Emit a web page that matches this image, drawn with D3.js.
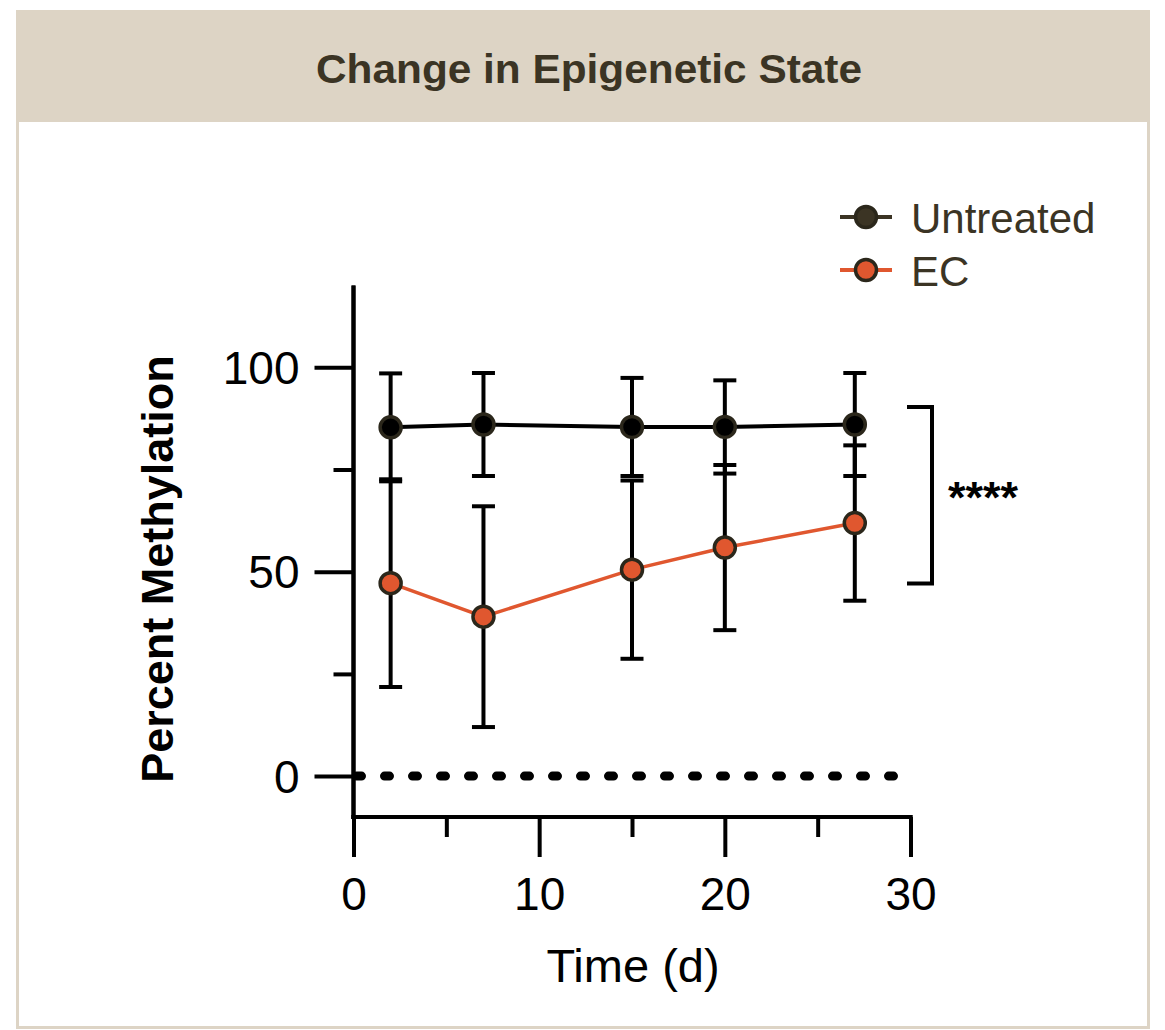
<!DOCTYPE html>
<html>
<head>
<meta charset="utf-8">
<script src="https://cdn.jsdelivr.net/npm/d3@7"></script>
<style>
  html, body { margin: 0; padding: 0; background: #ffffff; }
  svg { display: block; font-family: "Liberation Sans", Arial, Helvetica, sans-serif; }
</style>
</head>
<body>
<svg id="chart" width="1165" height="1030"></svg>
<script>
// ---- data ----
const days = [2, 7, 15, 20, 27];
const untreatedMean = [85.3, 86.0, 85.4, 85.4, 86.0];
const untreatedErr  = [13.2, 12.6, 12.0, 11.4, 12.6];
const ecMean = [47.2, 39.0, 50.5, 55.9, 61.9];
const ecErr  = [25.4, 27.0, 21.8, 20.2, 19.0];
const seriesNames = ["Untreated", "EC"];
const xTicks = [0, 10, 20, 30];
const xMinorTicks = [5, 15, 25];
const yTicks = [0, 50, 100];
const yMinorTicks = [25, 75];
const bracketRange = [47.1, 90.3];
const significance = "****";
const titleText = "Change in Epigenetic State";
const xLabel = "Time (d)";
const yLabel = "Percent Methylation";

// ---- layout ----
const svg = d3.select("#chart");
const beige = "#ddd4c5";
const dark = "#3b3424";
const orange = "#e0572f";
const markerStroke = "#2b271b";

// card
svg.append("rect").attr("x", 17.5).attr("y", 11.5).attr("width", 1131).attr("height", 1016)
  .attr("fill", "#fff").attr("stroke", beige).attr("stroke-width", 3);
svg.append("rect").attr("x", 16).attr("y", 10).attr("width", 1134).attr("height", 112)
  .attr("fill", beige);
svg.append("text").attr("x", 589).attr("y", 83).attr("text-anchor", "middle")
  .attr("font-size", 41).attr("font-weight", "bold").attr("fill", dark)
  .attr("textLength", 546).attr("lengthAdjust", "spacingAndGlyphs")
  .text(titleText);

const x = d3.scaleLinear().domain([0, 30]).range([353.5, 910.5]);
const y = d3.scaleLinear().domain([-10, 120]).range([817, 285.5]);

const axisW = 4;
// y axis
const yAxis = svg.append("g").attr("transform", `translate(${x(0)},0)`);
yAxis.call(d3.axisLeft(y).tickValues(yTicks).tickSize(39).tickSizeOuter(0).tickPadding(15));
yAxis.append("g").call(d3.axisLeft(y).tickValues(yMinorTicks).tickSize(20).tickSizeOuter(0).tickFormat(""));
yAxis.selectAll("path.domain").attr("stroke", "#000").attr("stroke-width", axisW)
  .attr("d", `M0,${y(120)}V${y(-10) + axisW / 2}`);
yAxis.selectAll(".tick line").attr("stroke", "#000").attr("stroke-width", axisW);
yAxis.selectAll(".tick text").attr("font-size", 46).attr("fill", "#000")
  .attr("font-family", "'Liberation Sans', Arial, sans-serif").attr("dy", "0.35em");

// x axis
const xAxis = svg.append("g").attr("transform", `translate(0,${y(-10)})`);
xAxis.call(d3.axisBottom(x).tickValues(xTicks).tickSize(40).tickSizeOuter(0).tickPadding(20));
xAxis.append("g").call(d3.axisBottom(x).tickValues(xMinorTicks).tickSize(20).tickSizeOuter(0).tickFormat(""));
xAxis.selectAll("path.domain").attr("stroke", "#000").attr("stroke-width", axisW)
  .attr("d", `M${x(0) - axisW / 2},0H${x(30) + axisW / 2}`);
xAxis.selectAll(".tick line").attr("stroke", "#000").attr("stroke-width", axisW);
xAxis.selectAll(".tick text").attr("font-size", 46).attr("fill", "#000")
  .attr("font-family", "'Liberation Sans', Arial, sans-serif");

// axis titles
svg.append("text").attr("x", 633).attr("y", 982).attr("text-anchor", "middle")
  .attr("font-size", 47).attr("fill", "#000").text(xLabel);
svg.append("text").attr("transform", `translate(173,569) rotate(-90)`).attr("text-anchor", "middle")
  .attr("font-size", 45).attr("font-weight", "bold").attr("fill", "#000").text(yLabel);

// zero dotted line
svg.append("line").attr("x1", x(0) + 3).attr("x2", x(29.5)).attr("y1", y(0)).attr("y2", y(0))
  .attr("stroke", "#000").attr("stroke-width", 9).attr("stroke-linecap", "round")
  .attr("stroke-dasharray", "5,23");

const untreated = days.map((d, i) => ({ d, m: untreatedMean[i], e: untreatedErr[i] }));
const ec = days.map((d, i) => ({ d, m: ecMean[i], e: ecErr[i] }));

function errorBars(data) {
  const g = svg.append("g").attr("stroke", "#000").attr("stroke-width", 4);
  data.forEach(p => {
    g.append("line").attr("x1", x(p.d)).attr("x2", x(p.d))
      .attr("y1", y(p.m + p.e)).attr("y2", y(p.m - p.e));
    [p.m + p.e, p.m - p.e].forEach(v => {
      g.append("line").attr("x1", x(p.d) - 11.5).attr("x2", x(p.d) + 11.5)
        .attr("y1", y(v)).attr("y2", y(v));
    });
  });
}
errorBars(untreated);
errorBars(ec);

const line = d3.line().x(p => x(p.d)).y(p => y(p.m));
svg.append("path").datum(untreated).attr("d", line).attr("fill", "none")
  .attr("stroke", "#000").attr("stroke-width", 4);
svg.append("path").datum(ec).attr("d", line).attr("fill", "none")
  .attr("stroke", orange).attr("stroke-width", 3.5);

svg.append("g").selectAll("circle").data(untreated).join("circle")
  .attr("cx", p => x(p.d)).attr("cy", p => y(p.m)).attr("r", 10.5)
  .attr("fill", "#000").attr("stroke", markerStroke).attr("stroke-width", 3.5);
svg.append("g").selectAll("circle").data(ec).join("circle")
  .attr("cx", p => x(p.d)).attr("cy", p => y(p.m)).attr("r", 10.5)
  .attr("fill", orange).attr("stroke", markerStroke).attr("stroke-width", 3.5);

// significance bracket
const bx = 932, barm = 25;
svg.append("path")
  .attr("d", `M${bx - barm},${y(bracketRange[1])}H${bx}V${y(bracketRange[0])}H${bx - barm}`)
  .attr("fill", "none").attr("stroke", "#000").attr("stroke-width", 4);
svg.append("text").attr("x", 983).attr("y", 513).attr("text-anchor", "middle")
  .attr("font-size", 45).attr("font-weight", "bold").attr("fill", "#000").text(significance);

// legend
const legend = [
  { name: seriesNames[0], color: dark, fill: dark, y: 217 },
  { name: seriesNames[1], color: orange, fill: orange, y: 270 }
];
const lg = svg.append("g");
legend.forEach(l => {
  lg.append("line").attr("x1", 840).attr("x2", 892).attr("y1", l.y).attr("y2", l.y)
    .attr("stroke", l.color).attr("stroke-width", 4);
  lg.append("circle").attr("cx", 866).attr("cy", l.y).attr("r", 10.5)
    .attr("fill", l.fill).attr("stroke", markerStroke).attr("stroke-width", 3.5);
  lg.append("text").attr("x", 911).attr("y", l.y + 16).attr("font-size", 42)
    .attr("fill", dark).text(l.name);
});
</script>
</body>
</html>
